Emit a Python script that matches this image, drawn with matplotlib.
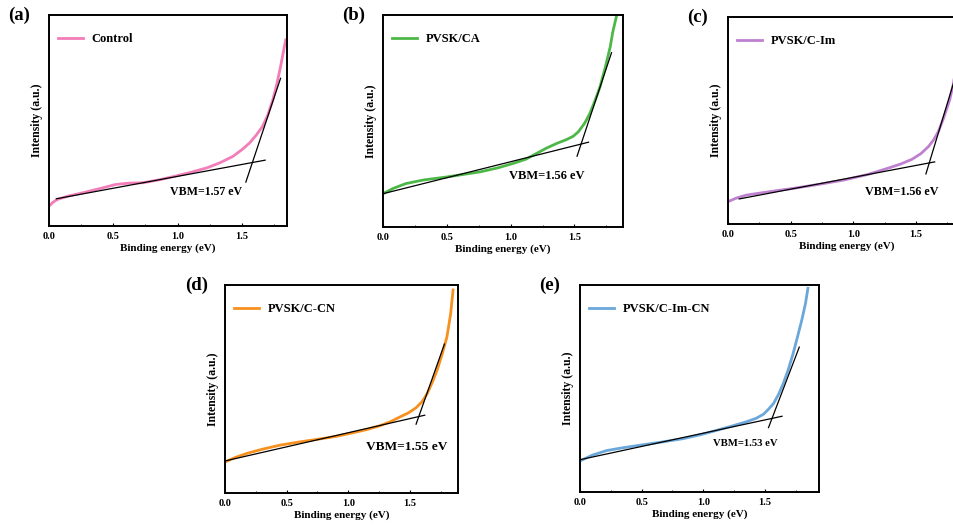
import numpy as np
import matplotlib
matplotlib.use('Agg')
import matplotlib.pyplot as plt

plt.rcParams['font.family'] = ['Liberation Serif', 'DejaVu Serif']
plt.rcParams['font.weight'] = 'bold'

# (a) Control
a_x = [0.0, 0.03, 0.065, 0.15, 0.26, 0.40, 0.52, 0.62, 0.73, 0.85, 0.98, 1.10, 1.23, 1.33, 1.43, 1.50,
       1.56, 1.61, 1.66, 1.70, 1.74, 1.77, 1.80, 1.82, 1.84]
a_y = [0.094, 0.112, 0.126, 0.142, 0.157, 0.178, 0.197, 0.203, 0.205, 0.218, 0.236, 0.254, 0.276, 0.300,
       0.33, 0.362, 0.394, 0.43, 0.472, 0.525, 0.598, 0.67, 0.756, 0.82, 0.882]
a_fit1 = ([0.057, 1.68], [0.129, 0.312])
a_fit2 = ([1.53, 1.80], [0.208, 0.70])

# (b) PVSK/CA
b_x = [0.0, 0.08, 0.18, 0.32, 0.50, 0.63, 0.76, 0.90, 1.02, 1.12, 1.20, 1.28, 1.36, 1.44, 1.49, 1.53,
       1.58, 1.62, 1.66, 1.70, 1.74, 1.78, 1.80, 1.827]
b_y = [0.157, 0.182, 0.205, 0.222, 0.236, 0.248, 0.26, 0.279, 0.30, 0.32, 0.346, 0.372, 0.394, 0.413,
       0.428, 0.449, 0.49, 0.535, 0.595, 0.661, 0.75, 0.85, 0.92, 0.99]
b_fit1 = ([0.0, 1.61], [0.157, 0.40])
b_fit2 = ([1.52, 1.79], [0.334, 0.822])

# (c) PVSK/C-Im
c_x = [0.0, 0.07, 0.15, 0.33, 0.53, 0.73, 0.93, 1.12, 1.28, 1.38, 1.47, 1.54, 1.60, 1.64, 1.68, 1.72,
       1.77, 1.80, 1.82, 1.86]
c_y = [0.108, 0.126, 0.14, 0.156, 0.173, 0.192, 0.213, 0.24, 0.27, 0.29, 0.313, 0.34, 0.374, 0.405,
       0.447, 0.51, 0.60, 0.68, 0.76, 0.90]
c_fit1 = ([0.089, 1.65], [0.121, 0.30])
c_fit2 = ([1.58, 1.82], [0.242, 0.72])

# (d) PVSK/C-CN
d_x = [0.0, 0.08, 0.176, 0.30, 0.446, 0.60, 0.77, 0.90, 1.04, 1.15, 1.26, 1.35, 1.42, 1.49, 1.55, 1.60,
       1.64, 1.68, 1.72, 1.76, 1.80, 1.83, 1.85]
d_y = [0.149, 0.17, 0.19, 0.21, 0.23, 0.245, 0.26, 0.272, 0.29, 0.305, 0.324, 0.345, 0.366, 0.386, 0.41,
       0.44, 0.478, 0.53, 0.59, 0.665, 0.75, 0.86, 0.976]
d_fit1 = ([0.0, 1.62], [0.154, 0.374])
d_fit2 = ([1.55, 1.78], [0.331, 0.716])

# (e) PVSK/C-Im-CN
e_x = [0.0, 0.10, 0.216, 0.34, 0.486, 0.66, 0.84, 0.98, 1.11, 1.23, 1.35, 1.43, 1.49, 1.53, 1.57, 1.61,
       1.65, 1.69, 1.73, 1.77, 1.80, 1.83, 1.85]
e_y = [0.15, 0.178, 0.20, 0.213, 0.226, 0.241, 0.258, 0.277, 0.298, 0.318, 0.339, 0.356, 0.376, 0.40,
       0.427, 0.47, 0.524, 0.59, 0.669, 0.76, 0.83, 0.91, 0.984]
e_fit1 = ([0.0, 1.64], [0.156, 0.366])
e_fit2 = ([1.53, 1.78], [0.311, 0.70])

panels = [
    ('(a)', 'Control', '#F27DB8', a_x, a_y, a_fit1, a_fit2, 'VBM=1.57 eV', (1.22, 0.16), 8.6, 1.85),
    ('(b)', 'PVSK/CA', '#4DB847', b_x, b_y, b_fit1, b_fit2, 'VBM=1.56 eV', (1.28, 0.24), 9, 1.88),
    ('(c)', 'PVSK/C-Im', '#BF80CF', c_x, c_y, c_fit1, c_fit2, 'VBM=1.56 eV', (1.39, 0.156), 8.7, 1.90),
    ('(d)', 'PVSK/C-CN', '#F7901E', d_x, d_y, d_fit1, d_fit2, 'VBM=1.55 eV', (1.47, 0.22), 9.6, 1.89),
    ('(e)', 'PVSK/C-Im-CN', '#6AA7DA', e_x, e_y, e_fit1, e_fit2, 'VBM=1.53 eV', (1.34, 0.234), 7.7, 1.94),
]

# axes boxes in pixels: left, top, right, bottom
boxes = [(49, 15, 287, 226), (383, 15, 623, 227), (728, 17, 966, 224),
         (225, 285, 458, 493), (580, 285, 819, 492)]

W, H = 954, 526
fig = plt.figure(figsize=(W / 100, H / 100), dpi=100)

for (lab, name, col, x, y, f1, f2, txt, tpos, tsize, xmax), (l, t, r, b) in zip(panels, boxes):
    ax = fig.add_axes([l / W, 1 - b / H, (r - l) / W, (b - t) / H])
    ax.plot(x, y, color=col, lw=2, label=name, solid_joinstyle='round')
    ax.plot(f1[0], f1[1], color='black', lw=0.9)
    ax.plot(f2[0], f2[1], color='black', lw=0.9)
    ax.text(tpos[0], tpos[1], txt, ha='center', va='center', fontsize=tsize, fontweight='bold')
    ax.set_xlim(0, xmax)
    ax.set_ylim(0, 1)
    ax.set_yticks([])
    ax.set_xticks([0.0, 0.5, 1.0, 1.5])
    ax.set_xticks([0.25, 0.75, 1.25, 1.75], minor=True)
    ax.tick_params(axis='x', direction='in', length=2.5, width=0.8, labelsize=7.5, pad=4)
    ax.tick_params(axis='x', which='minor', direction='in', length=1.5, width=0.6)
    for s in ax.spines.values():
        s.set_linewidth(1.4)
    ax.set_xlabel('Binding energy (eV)', fontsize=8, fontweight='bold', labelpad=2)
    ax.set_ylabel('Intensity (a.u.)', fontsize=8.5, fontweight='bold', labelpad=4)
    ax.legend(loc='upper left', frameon=False, fontsize=9, handlelength=2.0,
              handletextpad=0.7, borderaxespad=0.3, bbox_to_anchor=(0.0, 0.955))
    ax.text(-0.17, 1.0, lab, transform=ax.transAxes, fontsize=13.5, fontweight='bold',
            ha='left', va='center')

fig.savefig('out.png', dpi=100)
